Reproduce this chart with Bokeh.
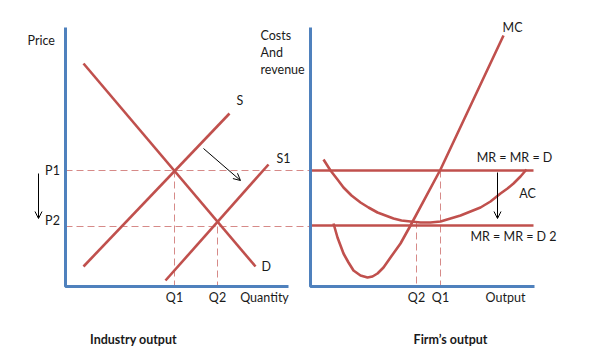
from bokeh.plotting import figure
from bokeh.models import Range1d, Arrow, OpenHead, ColumnDataSource
from bokeh.core.properties import value
from bokeh.embed import file_html
from bokeh.resources import INLINE

# Diagram coordinates (units of the drawing, y grows downward)
# --- Industry panel ---
ind_axis_x = [65, 65, 288]
ind_axis_y = [27, 286, 286]
demand_x = [83, 255]
demand_y = [63, 266]
supply_x = [83, 229]
supply_y = [266, 113]
supply1_x = [165, 268]
supply1_y = [280, 164]
p_levels = [170, 226]          # P1, P2
p_labels = ["P1", "P2"]
q_ind = [174, 217]             # Q1, Q2 on industry panel
q_ind_labels = ["Q1", "Q2"]

# --- Firm panel ---
firm_axis_x = [310, 310, 534]
firm_axis_y = [27, 286, 286]
mr_levels = [170, 225]
mr_x = [310, 533]
ac_x = [323, 330, 337, 343, 351, 360, 368, 377, 385, 393, 401, 410, 420, 430, 440, 450, 460, 470, 480, 490, 500, 507, 513, 520, 526]
ac_y = [159, 170, 179, 187, 195, 202, 207, 212, 215, 218, 220, 221, 222, 222, 221, 218, 215, 211, 207, 201, 193, 188, 183, 176, 169]
mc_x = [333, 337, 343, 348, 353, 360, 367, 372, 377, 383, 390, 400, 410, 440, 503]
mc_y = [223, 237, 253, 262, 270, 275, 277, 276, 273, 267, 257, 243, 225, 169, 35]
q_firm = [416, 440]            # Q2, Q1 on firm panel
q_firm_labels = ["Q2", "Q1"]

RED = "#C0504D"
BLUE = "#4F81BD"
DASH = "#D68A88"
FONT = value("Lato")

p = figure(width=574, height=347, x_range=Range1d(0, 574), y_range=Range1d(347, 0),
           x_axis_type=None, y_axis_type=None, toolbar_location=None,
           output_backend="svg", min_border=0)
p.grid.visible = False
p.outline_line_color = None

# dashed guide lines
for y in p_levels:
    p.line([65, 310], [y, y], line_color=DASH, line_width=1, line_dash="7 4")
p.line([q_ind[0], q_ind[0]], [p_levels[0], 286], line_color=DASH, line_width=1, line_dash="7 4")
p.line([q_ind[1], q_ind[1]], [p_levels[1], 286], line_color=DASH, line_width=1, line_dash="7 4")
p.line([q_firm[0], q_firm[0]], [221, 286], line_color=DASH, line_width=1, line_dash="7 4")
p.line([q_firm[1], q_firm[1]], [mr_levels[0], 286], line_color=DASH, line_width=1, line_dash="7 4")

# curves
for xs, ys in [(demand_x, demand_y), (supply_x, supply_y), (supply1_x, supply1_y)]:
    p.line(xs, ys, line_color=RED, line_width=2.6)
for y in mr_levels:
    p.line(mr_x, [y, y], line_color=RED, line_width=2.6)
p.line(ac_x, ac_y, line_color=RED, line_width=2.6, line_join="round")
p.line(mc_x, mc_y, line_color=RED, line_width=2.6, line_join="round")

# axes
p.line(ind_axis_x, ind_axis_y, line_color=BLUE, line_width=3)
p.line(firm_axis_x, firm_axis_y, line_color=BLUE, line_width=3)

# arrows
for (x0, y0, x1, y1) in [(203, 148, 240, 180), (38, 173, 38, 218), (497, 172, 497, 218)]:
    p.add_layout(Arrow(end=OpenHead(size=7, line_width=1, line_color="black"),
                       x_start=x0, y_start=y0, x_end=x1, y_end=y1,
                       line_color="black", line_width=1))

def txt(xs, ys, labels, align="center", bold=False, size="12.5px"):
    src = ColumnDataSource(dict(x=xs, y=ys, t=labels))
    p.text("x", "y", text="t", source=src, text_font=FONT, text_font_size=size,
           text_align=align, text_baseline="middle", text_color="#1a1a1a",
           text_font_style="bold" if bold else "normal")

txt([27], [40], ["Price"], align="left")
txt([260, 260, 260], [35, 52, 69], ["Costs", "And", "revenue"], align="left")
txt([236, 276, 261], [100, 158, 266], ["S", "S1", "D"], align="left")
txt([52, 52], [170, 220], p_labels)
txt(q_ind + [264], [297, 297, 297], q_ind_labels + ["Quantity"])
txt([133], [339], ["Industry output"], bold=True)
txt([512], [27], ["MC"])
txt([514], [157], ["MR = MR = D"])
txt([527], [193], ["AC"])
txt([513], [236], ["MR = MR = D 2"])
txt(q_firm + [505], [297, 297, 297], q_firm_labels + ["Output"])
txt([450], [339], ["Firm\u2019s output"], bold=True)

open("out.html", "w").write(file_html(p, INLINE))
